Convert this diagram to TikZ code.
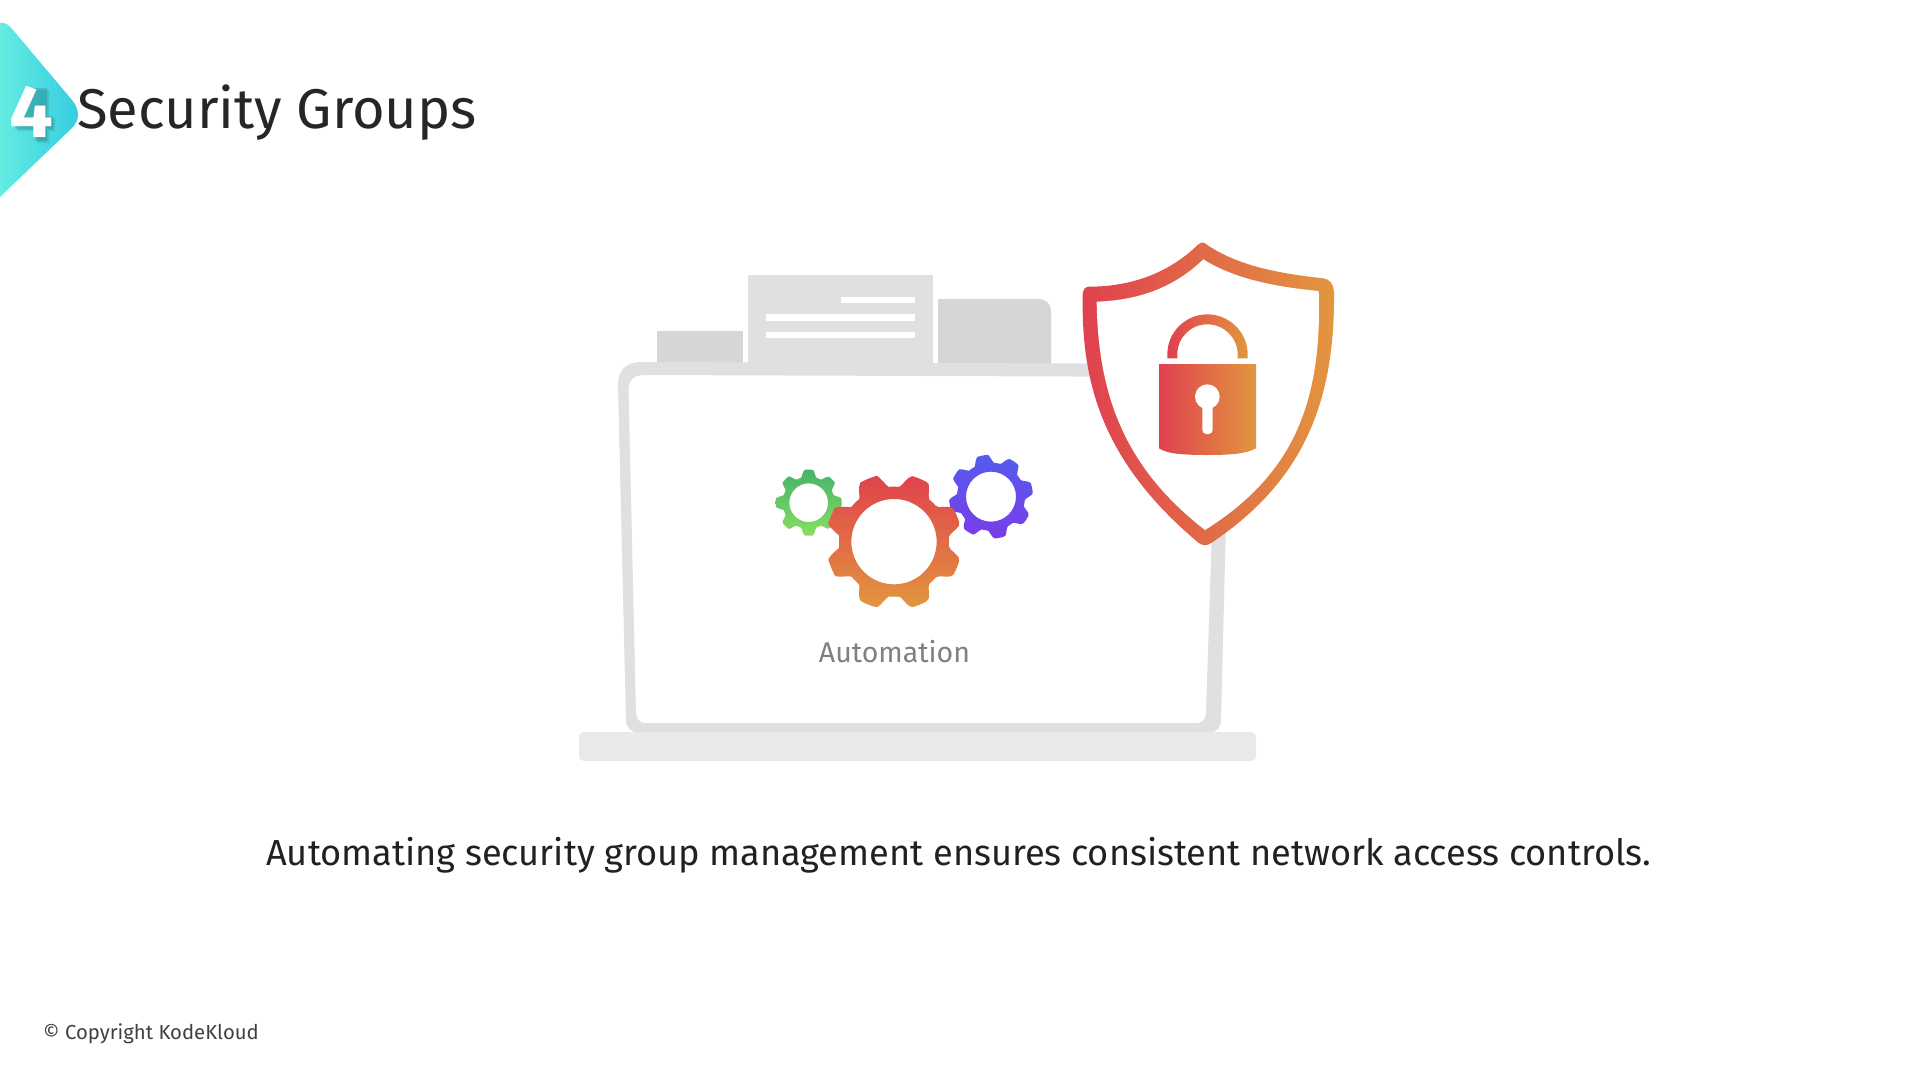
\documentclass[tikz,border=0pt]{standalone}
\usepackage{fontspec}
\setmainfont{Fira Sans}
\definecolor{shA}{HTML}{E0404F}
\definecolor{shM}{HTML}{E48045}
\definecolor{shB}{HTML}{E2963F}
\definecolor{barC}{HTML}{E0E0E2}
\definecolor{tabC}{HTML}{D6D6D8}
\definecolor{baseC}{HTML}{E9E9EB}
\definecolor{gTop}{HTML}{45B36A}
\definecolor{gBot}{HTML}{88DE60}
\definecolor{pTop}{HTML}{545CEE}
\definecolor{pBot}{HTML}{7A3CE8}
\definecolor{rTop}{HTML}{E0424C}
\definecolor{badgeL}{HTML}{62ECE2}
\definecolor{badgeR}{HTML}{36CCE0}
\tikzset{
  zoomtwo/.style={shift={(1060,220)},scale=1/3},
  zoomthree/.style={shift={(760,440)},scale=1/3},
  shieldshade/.style={left color=shA,middle color=shM,right color=shB},
  titletext/.style={anchor=base west,inner sep=0pt,text=black!85,font=\fontsize{56}{60}\selectfont},
  bodytext/.style={anchor=base west,inner sep=0pt,text=black!87,font=\fontsize{36.2}{40}\selectfont},
}
\newcommand{\cogwheel}[8]{%
  \begin{scope}[shift={(#1,#2)}]
    \shade[top color=#7,bottom color=#8,even odd rule]
      plot[smooth,domain=0:360,samples=120,variable=\t]
        ({\t+#6}:{#3+(#4-#3)*min(1,max(0,.6+.9*cos(8*\t)))}) -- cycle
      (0,0) circle[radius=#5];
  \end{scope}}
\begin{document}
\begin{tikzpicture}[x=1pt,y=-1pt]
\useasboundingbox (0,0) rectangle (1920,1080);
\fill[white] (0,0) rectangle (1920,1080);
% corner badge
\shade[left color=badgeL,right color=badgeR]
  (0,23) .. controls (5,22) and (9,25) .. (13,30) -- (72,100) .. controls (80,110) and (80,120) .. (72,128) -- (0,197) -- cycle;
\fill[black!60!teal,opacity=.16] (34,88) -- (47,88) -- (47,116) -- (53,116) -- (53,129) -- (47,129) -- (47,141) -- (35,141) -- (35,129) -- (15,129) -- (15,116) -- cycle;
\fill[black!60!teal,opacity=.12] (36,90) -- (49,90) -- (49,118) -- (55,118) -- (55,131) -- (49,131) -- (49,143) -- (37,143) -- (37,131) -- (17,131) -- (17,118) -- cycle;
\node[anchor=base,inner sep=0pt,text=white,font=\bfseries\fontsize{74}{74}\selectfont] (num) at (31,137) {\scalebox{1.05}[1]{4}};
\node[titletext] (title) at (77,128) {Security Groups};
% tabs and document
\fill[tabC] (657,331) rectangle (743,364);
\fill[barC] (748,275) rectangle (933,364);
\fill[tabC] (938,365) -- (938,299) -- (1039,299) .. controls (1046,299) and (1051,304) .. (1051,311) -- (1051,365) -- cycle;
\fill[white] (841,297) rectangle (915,303);
\fill[white] (766,314) rectangle (915,321);
\fill[white] (766,332) rectangle (915,338);
% laptop
\fill[barC,even odd rule]
  (618,385) .. controls (618,370) and (626,362) .. (642,362) -- (1230,364) -- (1221,720) .. controls (1221,728) and (1216,733) .. (1208,733) -- (640,733) .. controls (632,733) and (626,728) .. (626,720) -- cycle
  (628.5,390) .. controls (628.5,380) and (634,375) .. (644,375) -- (1217,377) -- (1206,712) .. controls (1206,719) and (1203,723) .. (1197,723) -- (645,723) .. controls (640,723) and (636,719) .. (636,713) -- cycle;
\fill[baseC,rounded corners=5pt] (579,732) rectangle (1256,761);
% gears
\begin{scope}[zoomthree]
  \cogwheel{146}{188}{78}{99}{58}{0}{gTop}{gBot}
  \cogwheel{693}{170}{102}{126}{75}{33}{pTop}{pBot}
  \cogwheel{402}{305}{165}{204}{128}{22.5}{rTop}{shB}
\end{scope}
\node[anchor=base,inner sep=0pt,text=black!50,font=\fontsize{28.5}{32}\selectfont] (auto) at (894.5,662) {Automation};
% shield
\begin{scope}[zoomtwo]
  \shade[shieldshade]
    (68,225) .. controls (64,480) and (120,720) .. (415,968)
    .. controls (428,978) and (442,978) .. (455,968)
    .. controls (720,790) and (825,560) .. (822,220)
    .. controls (820,190) and (810,178) .. (790,175)
    .. controls (650,160) and (530,135) .. (442,75)
    .. controls (430,65) and (425,65) .. (413,75)
    .. controls (330,155) and (220,200) .. (88,200)
    .. controls (75,200) and (68,210) .. (68,225) -- cycle;
  \fill[white]
    (110,245) .. controls (250,240) and (350,195) .. (430,118)
    .. controls (520,175) and (640,200) .. (776,213)
    .. controls (788,560) and (690,770) .. (435,930)
    .. controls (190,740) and (114,520) .. (110,245) -- cycle;
  \shade[shieldshade]
    (322,415) -- (322,403) .. controls (322,337) and (376,283) .. (442,283)
    .. controls (508,283) and (563,337) .. (563,403) -- (563,415) -- (533,415) -- (533,403)
    .. controls (533,353) and (492,313) .. (442,313)
    .. controls (392,313) and (352,353) .. (352,403) -- (352,415) -- cycle;
  \shade[shieldshade]
    (297,432) -- (588,432) -- (588,685) .. controls (560,700) and (520,705) .. (442,705)
    .. controls (360,705) and (320,700) .. (297,685) -- cycle;
  \fill[white] (442,530) circle[radius=37];
  \fill[white,rounded corners=4pt] (427,540) rectangle (458,642);
\end{scope}
\node[bodytext] (body) at (266,865) {Automating security group management ensures consistent network access controls.};
\node[anchor=base west,inner sep=0pt,text=black!75,font=\fontsize{20.3}{24}\selectfont] (copy) at (43,1039) {© Copyright KodeKloud};
\end{tikzpicture}
\end{document}
